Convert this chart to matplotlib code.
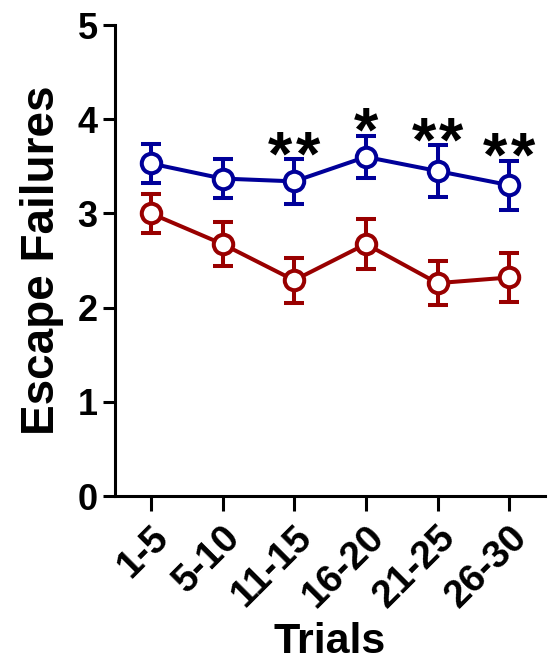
import matplotlib
matplotlib.use("Agg")
import matplotlib.pyplot as plt
from matplotlib.transforms import ScaledTranslation

# data
trials = ["1-5", "5-10", "11-15", "16-20", "21-25", "26-30"]
blue_mean = [3.53, 3.37, 3.34, 3.60, 3.45, 3.30]
blue_err = [0.21, 0.21, 0.235, 0.225, 0.275, 0.26]
red_mean = [3.00, 2.675, 2.29, 2.675, 2.26, 2.32]
red_err = [0.205, 0.235, 0.24, 0.27, 0.235, 0.265]
stars = [0, 0, 2, 1, 2, 2]   # number of asterisks above each blue point

plt.rcParams["font.family"] = ["Liberation Sans", "DejaVu Sans"]
plt.rcParams["font.weight"] = "bold"

fig = plt.figure(figsize=(5.54, 6.65), dpi=100)
ax = fig.add_axes([0.2076, 0.2541, 0.7762, 0.7083])

x = list(range(len(trials)))
for mean, err, col in [(blue_mean, blue_err, "#000099"), (red_mean, red_err, "#990000")]:
    ax.errorbar(x, mean, yerr=err, color=col, lw=2.9, elinewidth=2.9,
                capsize=7, capthick=2.9, marker="o", ms=14, mfc="white",
                mec=col, mew=2.9, zorder=3)

# significance asterisks
for i, n in enumerate(stars):
    for k in range(n):
        dx = (k - (n - 1) / 2) * 20
        ax.annotate("*", (x[i], blue_mean[i] + blue_err[i]), xytext=(dx, -11),
                    textcoords="offset points", ha="center", va="baseline",
                    fontsize=45, fontweight="bold")

ax.set_xlim(-0.5, 5.5)
ax.set_ylim(0, 5)
ax.set_yticks([0, 1, 2, 3, 4, 5])
ax.set_xticks(x)
ax.set_xticklabels(trials, rotation=45, ha="right", rotation_mode="anchor")
shift = ScaledTranslation(10 / 100, 0, fig.dpi_scale_trans)
for lab in ax.get_xticklabels():
    lab.set_transform(lab.get_transform() + shift)
ax.tick_params(axis="y", labelsize=26, width=2.2, length=8.5, pad=4)
ax.tick_params(axis="x", labelsize=28, width=2.2, length=10.5, pad=6)
for lab in ax.get_xticklabels() + ax.get_yticklabels():
    lab.set_fontweight("bold")

ax.spines["top"].set_visible(False)
ax.spines["right"].set_visible(False)
ax.spines["left"].set_linewidth(2.2)
ax.spines["bottom"].set_linewidth(2.2)

ax.set_ylabel("Escape Failures", fontsize=33, fontweight="bold", labelpad=10)
ax.set_xlabel("Trials", fontsize=31, fontweight="bold", labelpad=5)

fig.savefig("out.png", dpi=100)
